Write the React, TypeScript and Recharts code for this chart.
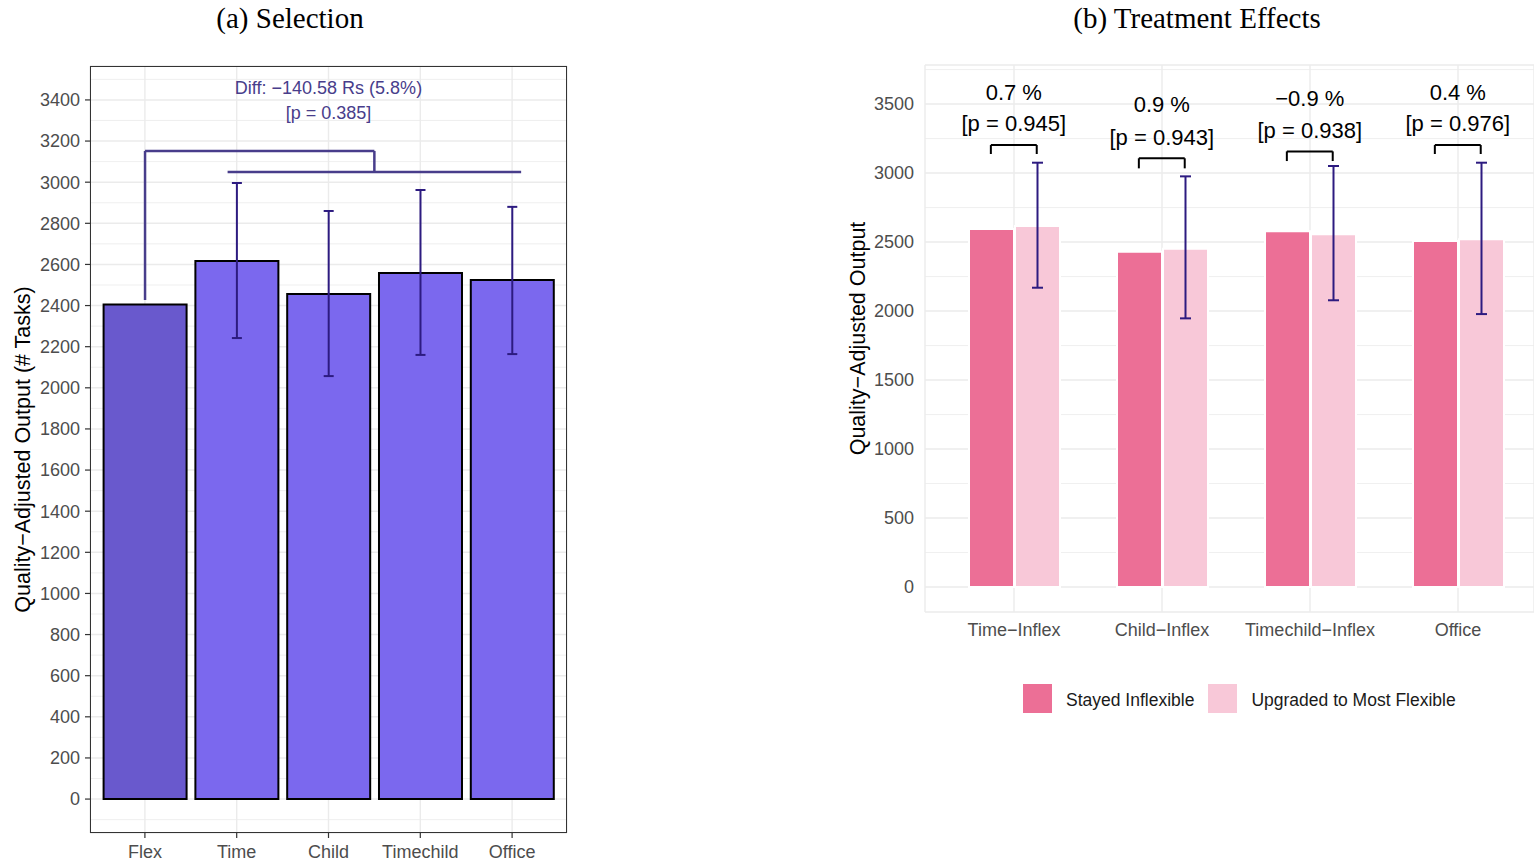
import React from 'react';
import {
  ComposedChart,
  Bar,
  Cell,
  ErrorBar,
  XAxis,
  YAxis,
  CartesianGrid,
  ReferenceLine,
  ReferenceDot,
  Legend,
} from 'recharts';

// (a) Selection
const selCats = ['Flex', 'Time', 'Child', 'Timechild', 'Office'];
const selMeans = [2405, 2617, 2456, 2558, 2524];
const selLow = [null, 2242, 2057, 2160, 2164];
const selHigh = [null, 2996, 2860, 2962, 2880];
const selTicks = [0, 200, 400, 600, 800, 1000, 1200, 1400, 1600, 1800, 2000, 2200, 2400, 2600, 2800, 3000, 3200, 3400];
const selMinor = [-100, 100, 300, 500, 700, 900, 1100, 1300, 1500, 1700, 1900, 2100, 2300, 2500, 2700, 2900, 3100, 3300, 3500];
const selDiffText = 'Diff: −140.58 Rs (5.8%)';
const selPText = '[p = 0.385]';

// (b) Treatment effects
const teCats = ['Time−Inflex', 'Child−Inflex', 'Timechild−Inflex', 'Office'];
const stayed = [2594, 2430, 2578, 2507];
const upgraded = [2616, 2451, 2556, 2520];
const upLow = [2169, 1947, 2078, 1978];
const upHigh = [3075, 2976, 3051, 3075];
const pctLabels = ['0.7 %', '0.9 %', '−0.9 %', '0.4 %'];
const pLabels = ['[p = 0.945]', '[p = 0.943]', '[p = 0.938]', '[p = 0.976]'];
const bracketTop = [3203, 3107, 3157, 3203];
const bracketLeg = [3138, 3034, 3087, 3138];
const pctY = [3587, 3500, 3543, 3587];
const pY = [3362, 3261, 3312, 3362];
const teTicks = [0, 500, 1000, 1500, 2000, 2500, 3000, 3500];
const teMinor = [250, 750, 1250, 1750, 2250, 2750, 3250, 3750];

const sans = '"Liberation Sans", Arial, Helvetica, sans-serif';
const serif = '"Liberation Serif", "Times New Roman", serif';
const tickStyle = { fill: '#4d4d4d', fontSize: 18, fontFamily: sans };
const purple = '#483D8B';
const errColor = '#2d1b80';

const selData = selCats.map((c, i) => ({
  name: c,
  pos: i + 1,
  value: selMeans[i],
  err: selLow[i] == null ? null : [selMeans[i] - (selLow[i] as number), (selHigh[i] as number) - selMeans[i]],
}));

const teData = teCats.map((c, i) => ({
  name: c,
  pos: i + 1,
  stayed: stayed[i],
  upgraded: upgraded[i],
  err: [upgraded[i] - upLow[i], upHigh[i] - upgraded[i]],
}));

const SelectionChart = () => (
  <div style={{ position: 'absolute', left: 0, top: 0, width: 600, height: 863 }}>
    <ComposedChart
      width={600}
      height={863}
      data={selData}
      margin={{ top: 66, right: 33, bottom: 0, left: 0 }}
      barCategoryGap="5%"
    >
      <CartesianGrid horizontalValues={selMinor} vertical={false} stroke="#ebebeb" strokeWidth={0.8} />
      <CartesianGrid stroke="#ebebeb" strokeWidth={1.4} />
      <XAxis
        dataKey="name"
        padding={{ left: 9, right: 9 }}
        height={30}
        axisLine={false}
        tickLine={{ stroke: '#333', strokeWidth: 1.2 }}
        tickSize={5}
        tickMargin={7}
        tick={tickStyle}
      />
      <XAxis xAxisId="pos" dataKey="pos" type="number" domain={[0.4, 5.6]} allowDataOverflow hide />
      <YAxis
        type="number"
        domain={[-165, 3565]}
        ticks={selTicks}
        allowDataOverflow
        width={90}
        axisLine={false}
        tickLine={{ stroke: '#333', strokeWidth: 1.2 }}
        tickSize={5}
        tickMargin={5}
        tick={tickStyle}
        label={{
          value: 'Quality−Adjusted Output (# Tasks)',
          angle: -90,
          position: 'center',
          dx: -23,
          fill: '#000',
          fontSize: 21.5,
          fontFamily: sans,
        }}
      />
      <Bar dataKey="value" stroke="#000" strokeWidth={2} isAnimationActive={false}>
        {selData.map((d, i) => (
          <Cell key={d.name} fill={i === 0 ? '#6959CD' : '#7B68EE'} />
        ))}
        <ErrorBar dataKey="err" width={5} stroke={errColor} strokeWidth={2} />
      </Bar>
      <ReferenceLine xAxisId="pos" segment={[{ x: 1, y: 2427 }, { x: 1, y: 3152 }]} stroke={purple} strokeWidth={2.5} ifOverflow="visible" />
      <ReferenceLine xAxisId="pos" segment={[{ x: 1, y: 3152 }, { x: 3.5, y: 3152 }]} stroke={purple} strokeWidth={2.5} ifOverflow="visible" />
      <ReferenceLine xAxisId="pos" segment={[{ x: 3.5, y: 3152 }, { x: 3.5, y: 3050 }]} stroke={purple} strokeWidth={2.5} ifOverflow="visible" />
      <ReferenceLine xAxisId="pos" segment={[{ x: 1.9, y: 3050 }, { x: 5.1, y: 3050 }]} stroke={purple} strokeWidth={2.5} ifOverflow="visible" />
      <ReferenceDot
        xAxisId="pos"
        x={3}
        y={3458}
        r={0}
        fill="none"
        stroke="none"
        label={{ value: selDiffText, position: 'center', fill: purple, fontSize: 18, fontFamily: sans }}
      />
      <ReferenceDot
        xAxisId="pos"
        x={3}
        y={3337}
        r={0}
        fill="none"
        stroke="none"
        label={{ value: selPText, position: 'center', fill: purple, fontSize: 18, fontFamily: sans }}
      />
    </ComposedChart>
    <div
      style={{
        position: 'absolute',
        left: 90,
        top: 66,
        width: 477,
        height: 767,
        boxSizing: 'border-box',
        border: '1.3px solid #333',
        pointerEvents: 'none',
      }}
    />
  </div>
);

const renderLegend = (props: any) => {
  const { payload } = props;
  return (
    <div style={{ display: 'flex', alignItems: 'center', fontFamily: sans, fontSize: 17.5, color: '#1a1a1a' }}>
      {payload.map((p: any) => (
        <div key={p.value} style={{ display: 'flex', alignItems: 'center', marginRight: 14 }}>
          <span style={{ display: 'inline-block', width: 29, height: 29, background: p.color, marginRight: 14 }} />
          <span style={{ paddingTop: 4 }}>{p.value}</span>
        </div>
      ))}
    </div>
  );
};

const EffectsChart = () => (
  <div style={{ position: 'absolute', left: 840, top: 0, width: 694, height: 863 }}>
    <ComposedChart
      width={694}
      height={863}
      data={teData}
      margin={{ top: 65, right: 0, bottom: 216, left: 0 }}
      barSize={45}
      barGap={1}
    >
      <CartesianGrid horizontalValues={teMinor} vertical={false} stroke="#ebebeb" strokeWidth={0.8} />
      <CartesianGrid stroke="#ebebeb" strokeWidth={1.4} />
      <XAxis
        dataKey="name"
        padding={{ left: 15, right: 2 }}
        height={35}
        axisLine={false}
        tickLine={false}
        tickSize={5}
        tickMargin={6}
        tick={tickStyle}
      />
      <XAxis xAxisId="pos" dataKey="pos" type="number" domain={[0.4, 4.515]} allowDataOverflow hide />
      <YAxis
        type="number"
        domain={[-181, 3783]}
        ticks={teTicks}
        allowDataOverflow
        width={85}
        axisLine={false}
        tickLine={false}
        tickSize={5}
        tickMargin={6}
        tick={tickStyle}
        label={{
          value: 'Quality−Adjusted Output',
          angle: -90,
          position: 'center',
          dx: -25.5,
          fill: '#000',
          fontSize: 21.5,
          fontFamily: sans,
        }}
      />
      <Legend
        verticalAlign="middle"
        align="center"
        content={renderLegend}
        wrapperStyle={{ top: 684, left: 183, width: 480, height: 30 }}
      />
      <Bar dataKey="stayed" name="Stayed Inflexible" fill="#EC6F96" stroke="#fff" strokeWidth={2} isAnimationActive={false} />
      <Bar dataKey="upgraded" name="Upgraded to Most Flexible" fill="#F8C8D8" stroke="#fff" strokeWidth={2} isAnimationActive={false}>
        <ErrorBar dataKey="err" width={5.5} stroke={errColor} strokeWidth={2} />
      </Bar>
      {teCats.map((c, i) => (
        <React.Fragment key={c}>
          <ReferenceLine xAxisId="pos" segment={[{ x: i + 1 - 0.155, y: bracketLeg[i] }, { x: i + 1 - 0.155, y: bracketTop[i] }]} stroke="#000" strokeWidth={2} ifOverflow="visible" />
          <ReferenceLine xAxisId="pos" segment={[{ x: i + 1 - 0.155, y: bracketTop[i] }, { x: i + 1 + 0.155, y: bracketTop[i] }]} stroke="#000" strokeWidth={2} ifOverflow="visible" />
          <ReferenceLine xAxisId="pos" segment={[{ x: i + 1 + 0.155, y: bracketTop[i] }, { x: i + 1 + 0.155, y: bracketLeg[i] }]} stroke="#000" strokeWidth={2} ifOverflow="visible" />
          <ReferenceDot
            xAxisId="pos"
            x={i + 1}
            y={pctY[i]}
            r={0}
            fill="none"
            stroke="none"
            label={{ value: pctLabels[i], position: 'center', fill: '#000', fontSize: 22, fontFamily: sans }}
          />
          <ReferenceDot
            xAxisId="pos"
            x={i + 1}
            y={pY[i]}
            r={0}
            fill="none"
            stroke="none"
            label={{ value: pLabels[i], position: 'center', fill: '#000', fontSize: 22, fontFamily: sans }}
          />
        </React.Fragment>
      ))}
    </ComposedChart>
  </div>
);

export default function App() {
  return (
    <div style={{ position: 'absolute', left: 0, top: 0, width: 1534, height: 863, background: '#fff', overflow: 'hidden' }}>
      <div style={{ position: 'absolute', left: 0, top: 0, width: 580, textAlign: 'center', fontFamily: serif, fontSize: 29, lineHeight: '36px', color: '#000' }}>
        (a) Selection
      </div>
      <div style={{ position: 'absolute', left: 1000, top: 0, width: 394, textAlign: 'center', fontFamily: serif, fontSize: 29, lineHeight: '36px', color: '#000' }}>
        (b) Treatment Effects
      </div>
      <SelectionChart />
      <EffectsChart />
    </div>
  );
}
